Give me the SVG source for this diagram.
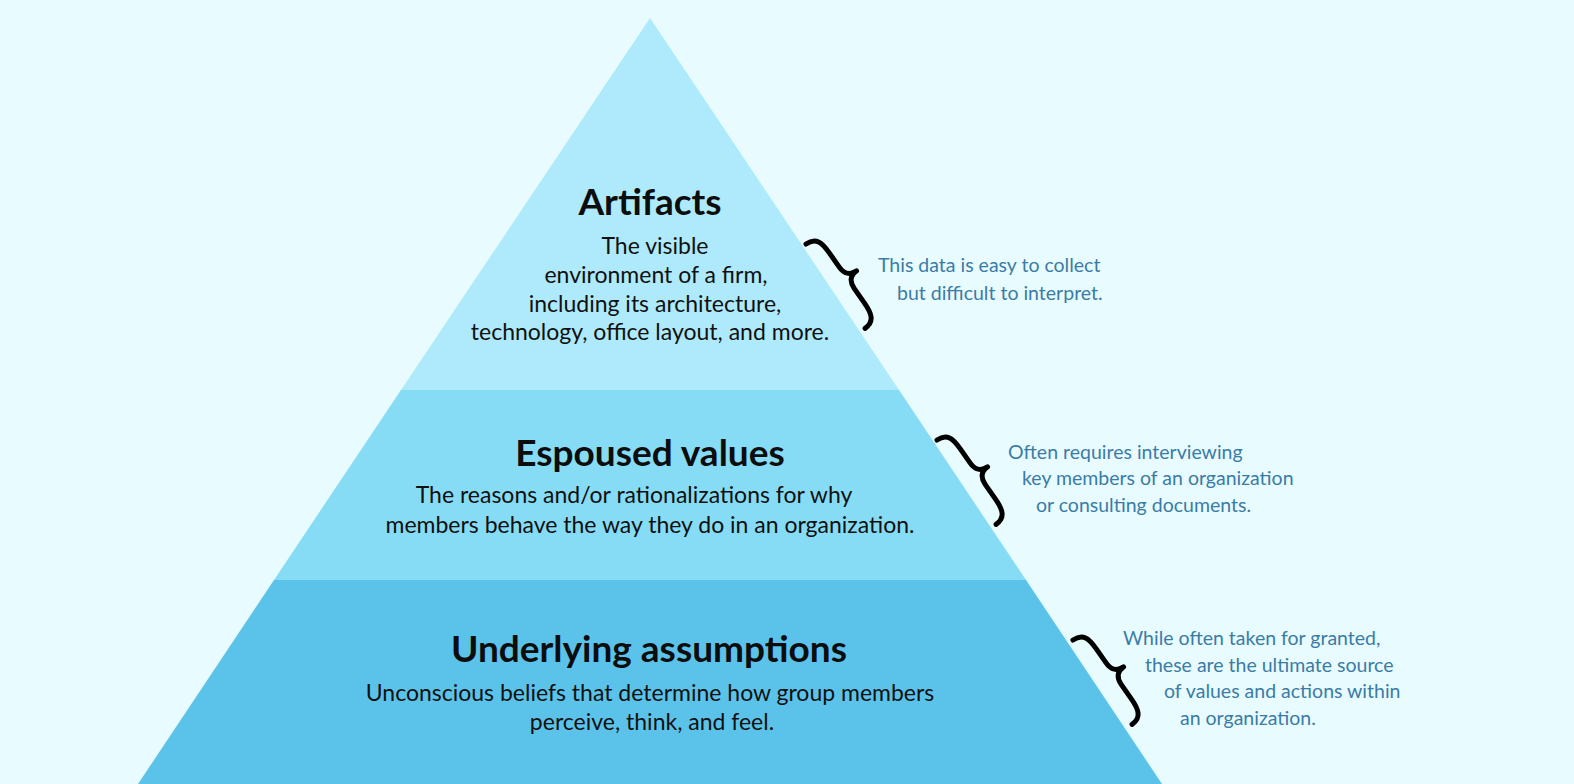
<svg xmlns="http://www.w3.org/2000/svg" width="1574" height="784" viewBox="0 0 1574 784">
<style>
.t{font-family:Lato,"Open Sans",sans-serif;font-weight:bold;font-size:37px;fill:#0d0d0d;text-anchor:middle}
.b{font-family:Lato,"Open Sans",sans-serif;font-size:23px;fill:#111;text-anchor:middle}
.a{font-family:Lato,"Open Sans",sans-serif;font-size:19.5px;fill:#3b7ca6}
.br{fill:none;stroke:#000;stroke-width:5;stroke-linecap:round;stroke-linejoin:round}
</style>
<defs>
<path id="brace" class="br" d="M0,0 C12,0 14,8 14,20 L14,38 C14,46 18,51 26,51 C18,51 14,56 14,64 L14,82 C14,94 12,103 0,103"/>
</defs>
<rect width="1574" height="784" fill="#e8fbff"/>
<g id="layer-artifacts">
<polygon points="650,18 899,390 401,390" fill="#aeeafb"/>
<text class="t" x="650" y="215">Artifacts</text>
<text class="b" x="655" y="254">The visible</text>
<text class="b" x="656" y="283">environment of a firm,</text>
<text class="b" x="655" y="312">including its architecture,</text>
<text class="b" x="650" y="340">technology, office layout, and more.</text>
</g>
<g id="layer-espoused">
<polygon points="401,390 899,390 1026,580 274,580" fill="#86dcf5"/>
<text class="t" x="650" y="466">Espoused values</text>
<text class="b" x="634" y="503">The reasons and/or rationalizations for why</text>
<text class="b" x="650" y="533">members behave the way they do in an organization.</text>
</g>
<g id="layer-underlying">
<polygon points="274,580 1026,580 1162,784 138,784" fill="#5bc3ea"/>
<text class="t" x="649" y="662">Underlying assumptions</text>
<text class="b" x="650" y="701">Unconscious beliefs that determine how group members</text>
<text class="b" x="652" y="730">perceive, think, and feel.</text>
</g>
<g id="connectors">
<use href="#brace" transform="translate(806,244) rotate(-35)"/>
<use href="#brace" transform="translate(937,440) rotate(-35)"/>
<use href="#brace" transform="translate(1073,640) rotate(-35)"/>
</g>
<g id="note-1">
<text class="a" x="878" y="272">This data is easy to collect</text>
<text class="a" x="897" y="300">but difficult to interpret.</text>
</g>
<g id="note-2">
<text class="a" x="1008" y="459">Often requires interviewing</text>
<text class="a" x="1022" y="485">key members of an organization</text>
<text class="a" x="1036" y="512">or consulting documents.</text>
</g>
<g id="note-3">
<text class="a" x="1123" y="645">While often taken for granted,</text>
<text class="a" x="1145" y="672">these are the ultimate source</text>
<text class="a" x="1164" y="698">of values and actions within</text>
<text class="a" x="1180" y="725">an organization.</text>
</g>
</svg>
